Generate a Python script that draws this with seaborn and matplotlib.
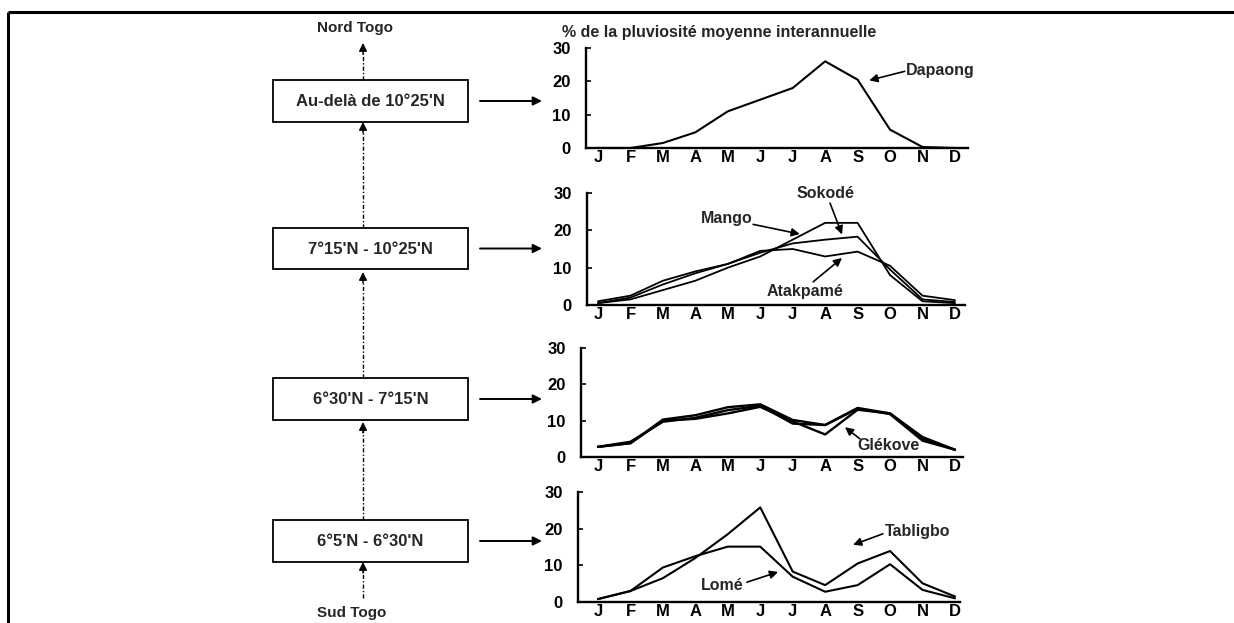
import numpy as np
import pandas as pd
import matplotlib
matplotlib.use("Agg")
import matplotlib.pyplot as plt
import seaborn as sns
from matplotlib.patches import Rectangle
from matplotlib.lines import Line2D

# ---------------- data ----------------
months = ['J', 'F', 'M', 'A', 'M', 'J', 'J', 'A', 'S', 'O', 'N', 'D']
y_ticks = [0, 10, 20, 30]

# zone 1 : au-delà de 10°25'N
dapaong = [0, 0, 1.5, 4.7, 11.0, 14.5, 18.0, 26.0, 20.5, 5.5, 0.3, 0]
# zone 2 : 7°15'N - 10°25'N
mango = [0.5, 1.5, 4.0, 6.5, 10.0, 13.0, 17.5, 22.0, 22.0, 8.0, 1.0, 0.5]
sokode = [0.5, 2.0, 5.5, 8.5, 11.0, 14.0, 16.5, 17.5, 18.3, 9.5, 1.5, 0.8]
atakpame = [1.0, 2.5, 6.5, 9.0, 11.0, 14.5, 15.0, 13.0, 14.3, 10.5, 2.5, 1.3]
# zone 3 : 6°30'N - 7°15'N
glekove = [2.8, 3.8, 10.0, 10.5, 12.0, 13.8, 9.8, 6.2, 13.0, 12.0, 5.0, 2.0]
zone3_b = [2.8, 3.8, 10.3, 11.5, 13.7, 14.5, 10.2, 8.8, 13.5, 12.0, 5.5, 2.0]
zone3_c = [2.8, 4.2, 9.7, 10.8, 12.9, 14.1, 9.2, 8.8, 13.3, 11.8, 4.5, 2.0]
# zone 4 : 6°5'N - 6°30'N
tabligbo = [0.8, 3.0, 6.5, 12.0, 18.5, 25.8, 8.3, 4.6, 10.5, 13.9, 5.1, 1.5]
lome = [0.8, 3.0, 9.4, 12.5, 15.1, 15.1, 6.9, 2.8, 4.6, 10.3, 3.3, 1.0]

zone_labels = ["Au-delà de 10°25'N", "7°15'N - 10°25'N",
               "6°30'N - 7°15'N", "6°5'N - 6°30'N"]
north_label = "Nord Togo"
south_label = "Sud Togo"
y_title = "% de la pluviosité moyenne interannuelle"

# ---------------- style ----------------
sns.set_style("white")
plt.rcParams['font.family'] = ['Liberation Sans', 'DejaVu Sans']
plt.rcParams['font.weight'] = 'bold'

W, H = 1234, 623
fig = plt.figure(figsize=(W / 100, H / 100), dpi=100)

# background axes in pixel coordinates for the schematic
bg = fig.add_axes([0, 0, 1, 1])
bg.set_xlim(0, W)
bg.set_ylim(H, 0)
bg.axis('off')

# frame (top and left)
bg.plot([8, W], [12, 12], color='black', lw=2.2, solid_capstyle='butt')
bg.plot([8, 8], [12, H], color='black', lw=2.2, solid_capstyle='butt')

# boxes
box_x0, box_x1 = 273, 468
box_ys = [(80, 122), (228, 269), (378, 420), (520, 562)]
for (y0, y1), lab in zip(box_ys, zone_labels):
    bg.add_patch(Rectangle((box_x0, y0), box_x1 - box_x0, y1 - y0,
                           fill=False, edgecolor='black', lw=1.3))
    bg.text((box_x0 + box_x1) / 2, (y0 + y1) / 2 + 1, lab, ha='center',
            va='center', fontsize=12, fontweight='bold')
    # horizontal arrow toward the chart
    yc = (y0 + y1) / 2
    bg.annotate('', xy=(542, yc), xytext=(480, yc),
                arrowprops=dict(arrowstyle='-|>', color='black', lw=1.4,
                                mutation_scale=13, shrinkA=0, shrinkB=0))

# vertical dash-dot arrows
ax_x = 363
segments = [(598, 562), (520, 422), (378, 272), (228, 122), (80, 43)]
for ystart, ytip in segments:
    bg.add_line(Line2D([ax_x, ax_x], [ystart, ytip + 8], color='black',
                       lw=1.0, linestyle=(0, (3, 1.5, 1, 1.5))))
    bg.annotate('', xy=(ax_x, ytip), xytext=(ax_x, ytip + 11),
                arrowprops=dict(arrowstyle='-|>', color='black', lw=1.0,
                                mutation_scale=12, shrinkA=0, shrinkB=0))

bg.text(355, 28, north_label, ha='center', va='center', fontsize=11,
        fontweight='bold')
bg.text(352, 613, south_label, ha='center', va='center', fontsize=11,
        fontweight='bold')
bg.text(562, 32, y_title, ha='left', va='center', fontsize=11.5,
        fontweight='bold')

# ---------------- charts ----------------
XJ, DX = 598.0, 32.45


def make_axes(x_spine, x_right, y0, y30):
    ax = fig.add_axes([x_spine / W, (H - y0) / H, (x_right - x_spine) / W,
                       (y0 - y30) / H])
    ax.set_xlim((x_spine - XJ) / DX, (x_right - XJ) / DX)
    ax.set_ylim(0, 30)
    ax.patch.set_alpha(0)
    return ax


def draw(ax, series, lw):
    rows = []
    for name, vals in series.items():
        for i, v in enumerate(vals):
            rows.append((name, i, v))
    df = pd.DataFrame(rows, columns=['station', 'month', 'pct'])
    sns.lineplot(data=df, x='month', y='pct', hue='station',
                 palette=['black'] * len(series), legend=False, ax=ax,
                 estimator=None, sort=False, linewidth=lw)
    ax.set_xticks(range(12))
    ax.set_xticklabels(months, fontsize=12, fontweight='bold')
    ax.set_yticks(y_ticks)
    ax.set_yticklabels([str(t) for t in y_ticks], fontsize=12,
                       fontweight='bold')
    ax.set_xlabel('')
    ax.set_ylabel('')
    for s in ['top', 'right']:
        ax.spines[s].set_visible(False)
    for s in ['left', 'bottom']:
        ax.spines[s].set_linewidth(1.7)
        ax.spines[s].set_color('black')
    ax.tick_params(axis='y', direction='in', length=3.5, width=1.2,
                   pad=11, colors='black', left=True)
    ax.tick_params(axis='x', length=0, pad=1.5, colors='black')


arrow_kw = dict(arrowstyle='-|>', color='black', lw=1.2, mutation_scale=12,
                shrinkA=0, shrinkB=0)


def label(ax, text, pos, tail, tip, ha='center'):
    ax.text(pos[0], pos[1], text, ha=ha, va='center', fontsize=11.5,
            fontweight='bold', clip_on=False)
    ax.annotate('', xy=tip, xytext=tail, arrowprops=arrow_kw,
                annotation_clip=False)


ax1 = make_axes(586, 968, 148, 48)
draw(ax1, {'Dapaong': dapaong}, 1.5)
label(ax1, 'Dapaong', (9.5, 23.1), (9.45, 23.0), (8.36, 20.3), ha='left')

ax2 = make_axes(587, 965, 305, 193)
draw(ax2, {'Mango': mango, 'Sokodé': sokode, 'Atakpamé': atakpame}, 1.3)
label(ax2, 'Sokodé', (7.0, 30.0), (7.15, 27.3), (7.52, 18.9))
label(ax2, 'Mango', (3.98, 23.3), (4.78, 21.6), (6.22, 19.0))
label(ax2, 'Atakpamé', (6.38, 3.5), (6.63, 6.2), (7.52, 12.6))

ax3 = make_axes(581, 963, 457, 348)
draw(ax3, {'Glékove': glekove, 'B': zone3_b, 'C': zone3_c}, 1.7)
label(ax3, 'Glékove', (8.95, 3.3), (8.07, 5.0), (7.61, 8.2))

ax4 = make_axes(578, 960, 602, 492)
draw(ax4, {'Tabligbo': tabligbo, 'Lomé': lome}, 1.5)
label(ax4, 'Tabligbo', (8.84, 19.1), (8.78, 18.6), (7.86, 15.6), ha='left')
label(ax4, 'Lomé', (3.82, 4.6), (4.59, 5.4), (5.55, 8.2))

fig.savefig('out.png', dpi=100)
